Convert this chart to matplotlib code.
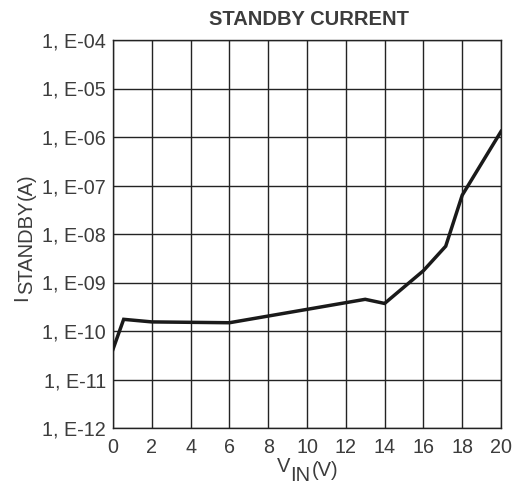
import matplotlib
matplotlib.use("Agg")
import matplotlib.pyplot as plt

FONT = "Liberation Sans"
TEXT_C = "#3c3c3c"
GRID_C = "#232323"
W, H = 521, 484

# supply voltage (V) and standby current (A)
v_in = [0.0, 0.55, 2.0, 6.0, 13.0, 14.0, 16.0, 17.15, 18.0, 20.0]
i_standby = [4.2e-11, 1.74e-10, 1.54e-10, 1.48e-10, 4.5e-10, 3.7e-10,
             1.75e-9, 5.6e-9, 6.3e-8, 1.3e-6]

x_ticks = list(range(0, 21, 2))
y_ticks = [1e-12, 1e-11, 1e-10, 1e-9, 1e-8, 1e-7, 1e-6, 1e-5, 1e-4]
y_labels = ["1, E-12", "1, E-11", "1, E-10", "1, E-09", "1, E-08",
            "1, E-07", "1, E-06", "1, E-05", "1, E-04"]

fig = plt.figure(figsize=(W / 100, H / 100), dpi=100)
ax = fig.add_axes([113 / W, 56 / H, 388 / W, 388 / H])

ax.plot(v_in, i_standby, color="#1a1a1a", linewidth=2.5,
        solid_joinstyle="miter", zorder=3)

ax.set_yscale("log")
ax.set_xlim(0, 20)
ax.set_ylim(1e-12, 1e-4)
ax.set_xticks(x_ticks)
ax.set_yticks(y_ticks)
ax.set_yticklabels(y_labels)
ax.minorticks_off()
ax.tick_params(length=0, labelsize=14.2, labelcolor=TEXT_C)
ax.tick_params(axis="x", pad=7.5)
ax.tick_params(axis="y", pad=5)
for lbl in ax.get_xticklabels() + ax.get_yticklabels():
    lbl.set_fontfamily(FONT)

ax.grid(True, color=GRID_C, linewidth=1.0)
for s in ax.spines.values():
    s.set_color(GRID_C)
    s.set_linewidth(1.0)

fig.text(309 / W, 1 - 25 / H, "STANDBY CURRENT", ha="center", va="baseline",
         fontfamily=FONT, fontsize=14.5, fontweight="bold", color=TEXT_C)

# x label: V with subscript IN, then (V) slightly lowered
lab = dict(fontfamily=FONT, fontsize=14.5, color=TEXT_C)
v = fig.text(277 / W, 12 / H, "V", ha="left", va="baseline", **lab)
sub = ax.annotate("IN", xy=(1, 0), xycoords=v, xytext=(0, -9),
                  textcoords="offset pixels", ha="left", va="bottom",
                  annotation_clip=False, **lab)
ax.annotate("(V)", xy=(1, 0), xycoords=sub, xytext=(1, 5),
            textcoords="offset pixels", ha="left", va="bottom",
            annotation_clip=False, **lab)

# y label: I with subscript STANDBY, then (A)
i_t = fig.text(31 / W, 183 / H, "I", ha="right", va="bottom", rotation=90, **lab)
sub = ax.annotate("STANDBY", xy=(1, 1), xycoords=i_t, xytext=(5, 1),
                  textcoords="offset pixels", ha="right", va="bottom",
                  rotation=90, annotation_clip=False, **lab)
ax.annotate("(A)", xy=(1, 1), xycoords=sub, xytext=(0, 1),
            textcoords="offset pixels", ha="right", va="bottom",
            rotation=90, annotation_clip=False, **lab)

fig.savefig("out.png", dpi=100)
